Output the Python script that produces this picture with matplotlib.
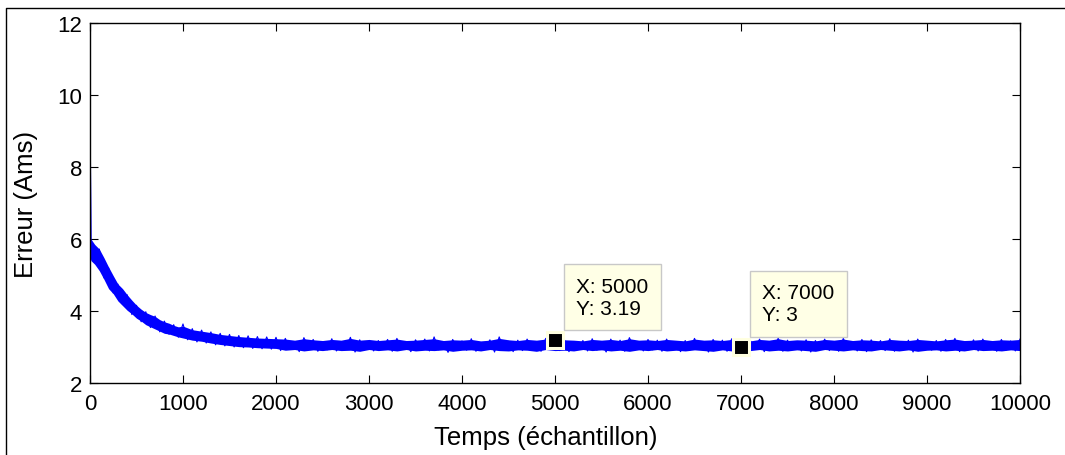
import matplotlib
matplotlib.use("Agg")
import matplotlib.pyplot as plt
from matplotlib.lines import Line2D

# ---------------------------------------------------
# 0. Données
# ---------------------------------------------------

# 0.1 Enveloppe du signal (coeur de la bande bleue), tous les 100 échantillons
env_x = [0, 10, 50, 100, 150, 200, 250, 300, 350, 400, 450, 500, 550,
         600, 650, 700, 750, 800, 850, 900, 950, 1000,
         1100, 1200, 1300, 1400, 1500, 1600, 1700, 1800, 1900, 2000] + \
        list(range(2100, 10001, 100))

env_high = [10.17, 6.00, 5.85, 5.72, 5.48, 5.22, 4.98, 4.75, 4.62, 4.45, 4.30, 4.16, 4.05,
            3.96, 3.90, 3.85, 3.76, 3.70, 3.66, 3.60, 3.56, 3.58,
            3.48, 3.44, 3.40, 3.35, 3.32, 3.29, 3.27, 3.25, 3.24, 3.23,
            3.22, 3.19, 3.23, 3.20, 3.18, 3.21, 3.19, 3.24, 3.19, 3.21,
            3.18, 3.20, 3.22, 3.18, 3.19, 3.21, 3.23, 3.18, 3.20, 3.19,
            3.21, 3.17, 3.19, 3.24, 3.20, 3.18, 3.21, 3.19, 3.22, 3.18,
            3.20, 3.19, 3.17, 3.21, 3.19, 3.21, 3.18, 3.23, 3.19, 3.20,
            3.18, 3.21, 3.19, 3.17, 3.22, 3.19, 3.20, 3.18, 3.21, 3.19,
            3.17, 3.21, 3.19, 3.23, 3.18, 3.20, 3.19, 3.17, 3.21, 3.19,
            3.22, 3.18, 3.20, 3.19, 3.17, 3.21, 3.19, 3.18, 3.21, 3.19,
            3.17, 3.20, 3.22, 3.18, 3.19, 3.21, 3.18, 3.20, 3.19, 3.21]

env_low = [5.50, 5.40, 5.30, 5.12, 4.88, 4.62, 4.48, 4.28, 4.15, 4.02, 3.92, 3.80, 3.72,
           3.62, 3.56, 3.50, 3.44, 3.38, 3.36, 3.32, 3.28, 3.25,
           3.19, 3.16, 3.11, 3.07, 3.04, 3.01, 3.00, 2.98, 2.97, 2.96,
           2.91, 2.93, 2.89, 2.92, 2.90, 2.93, 2.90, 2.91, 2.88, 2.93,
           2.90, 2.92, 2.89, 2.93, 2.89, 2.91, 2.90, 2.92, 2.88, 2.91,
           2.92, 2.89, 2.93, 2.90, 2.89, 2.92, 2.91, 2.88, 2.93, 2.90,
           2.91, 2.89, 2.93, 2.90, 2.92, 2.89, 2.91, 2.88, 2.92, 2.90,
           2.93, 2.89, 2.91, 2.89, 2.92, 2.90, 2.88, 2.92, 2.89, 2.91,
           2.90, 2.93, 2.89, 2.91, 2.89, 2.92, 2.90, 2.88, 2.93, 2.91,
           2.89, 2.92, 2.90, 2.89, 2.93, 2.91, 2.89, 2.92, 2.88, 2.91,
           2.92, 2.89, 2.91, 2.89, 2.93, 2.90, 2.91, 2.89, 2.92, 2.90]

# 0.2 Trace bruitée (pics), un point tous les 50 échantillons
samples = [0, 10] + list(range(50, 10001, 50))

erreur_debut = [10.17, 6.00,
                5.45, 5.72, 4.92, 5.20, 4.50, 4.75, 4.18, 4.45, 3.90, 4.16,
                3.70, 3.98, 3.54, 3.86, 3.42, 3.72, 3.35, 3.62, 3.27, 3.64,
                3.20, 3.51, 3.14, 3.47, 3.11, 3.42, 3.06, 3.38, 3.03, 3.35,
                3.00, 3.32, 2.98, 3.31, 2.96, 3.29, 2.95, 3.28, 2.94, 3.27]

erreur_fin = [2.90, 3.24, 2.95, 3.12, 2.87, 3.26, 2.98, 3.21, 2.88, 3.15, 2.92, 3.23, 2.89, 3.08, 2.96, 3.27, 2.86, 3.20, 2.92, 3.14,
              2.89, 3.18, 2.97, 3.21, 2.88, 3.24, 2.93, 3.10, 2.87, 3.20, 2.99, 3.22, 2.89, 3.28, 2.92, 3.13, 2.85, 3.21, 2.95, 3.17,
              2.91, 3.23, 2.88, 3.11, 2.97, 3.20, 2.86, 3.28, 2.94, 3.16, 2.87, 3.19, 2.90, 3.22, 2.98, 3.09, 2.88, 3.24, 2.93, 3.19,
              2.90, 3.21, 2.87, 3.12, 2.96, 3.18, 2.89, 3.23, 2.91, 3.10, 2.86, 3.22, 2.95, 3.19, 2.88, 3.26, 2.97, 3.13, 2.89, 3.21,
              2.92, 3.19, 2.88, 3.22, 2.98, 3.11, 2.87, 3.18, 2.91, 3.24, 2.94, 3.14, 2.86, 3.21, 2.95, 3.19, 2.88, 3.23, 2.90, 3.12,
              2.89, 3.18, 2.96, 3.22, 2.87, 3.13, 2.93, 3.25, 2.88, 3.19, 2.97, 3.10, 2.89, 3.20, 2.86, 3.18, 2.94, 3.22, 2.90, 3.15,
              2.88, 3.24, 2.95, 3.11, 2.89, 3.21, 2.87, 3.20, 2.96, 3.18, 2.90, 3.23, 2.88, 3.12, 2.93, 3.19, 2.86, 3.22, 2.97, 3.14,
              2.91, 3.18, 2.88, 3.21, 2.95, 3.24, 2.87, 3.12, 2.92, 3.20, 2.89, 3.22, 2.98, 3.11, 2.88, 3.21, 2.91, 3.17, 2.89, 3.22]

erreur = erreur_debut + erreur_fin

# 0.3 Curseurs (data tips)
tip_x = [5000, 7000]
tip_y = [3.19, 3]
tip_labels = ["X: 5000\nY: 3.19", "X: 7000\nY: 3"]

x_ticks = list(range(0, 10001, 1000))
y_ticks = [2, 4, 6, 8, 10, 12]

# ---------------------------------------------------
# 1. Figure
# ---------------------------------------------------

plt.rcParams["font.family"] = ["Liberation Sans", "DejaVu Sans"]

fig = plt.figure(figsize=(10.65, 4.56), dpi=100)
ax = fig.add_axes([90 / 1065, 72 / 456, 930 / 1065, 360 / 456])

ax.fill_between(env_x, env_low, env_high, color="#0000FF", linewidth=0)
ax.plot(samples, erreur, color="#0000FF", linewidth=0.8)

ax.plot(tip_x, tip_y, "s", color="black", markersize=11.5,
        markeredgecolor="#FFFFE0", markeredgewidth=2.2, zorder=5)
for tx, ty, lab in zip(tip_x, tip_y, tip_labels):
    ax.annotate(lab, xy=(tx, ty), xytext=(21.5, 22.5), textcoords="offset pixels",
                ha="left", va="bottom", fontsize=15, linespacing=1.2,
                bbox=dict(boxstyle="square,pad=0.6", fc="#FFFFE6", ec="#C8C8C8", lw=1),
                zorder=6)

ax.set_xlim(0, 10000)
ax.set_ylim(2, 12)
ax.set_xticks(x_ticks)
ax.set_yticks(y_ticks)
ax.tick_params(direction="in", length=5.8, width=0.8, top=True, right=True, labelsize=16)
ax.tick_params(axis="x", pad=7.5)
ax.tick_params(axis="y", pad=5.5)
for s in ax.spines.values():
    s.set_linewidth(1.0)

ax.set_xlabel("Temps (échantillon)", fontsize=18.5)
ax.set_ylabel("Erreur (Ams)", fontsize=18.5)
ax.xaxis.set_label_coords(0.49, -0.118)
ax.yaxis.set_label_coords(-0.056, 0.5)

# cadre extérieur (coin haut-gauche de la capture)
fig.add_artist(Line2D([6 / 1065, 6 / 1065, 1], [0, 1 - 9 / 456, 1 - 9 / 456],
                      transform=fig.transFigure, color="black", lw=1))

fig.savefig("out.png", dpi=100)
